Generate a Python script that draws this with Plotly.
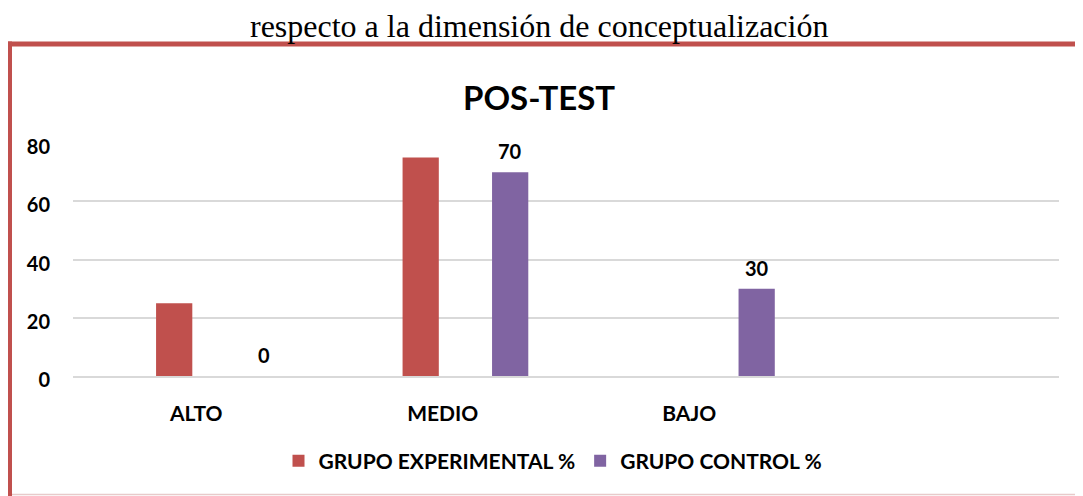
import plotly.graph_objects as go

categories = ["ALTO", "MEDIO", "BAJO", " "]
experimental = [25, 75, None, None]
control = [0, 70, 30, None]
series_names = ["GRUPO EXPERIMENTAL %", "GRUPO CONTROL %"]
y_ticks = [0, 20, 40, 60, 80]
caption = "respecto a la dimensión de conceptualización"
chart_title = "POS-TEST"

RED = "#C0504D"
PURPLE = "#8064A2"
FONT = "Lato"

# page body has an 8px margin: work in screen pixels and shift
OX, OY = 8, 8
W, H = 1083 - OX, 496 - OY
# plot area in screen pixels
PX0, PX1, PY0, PY1 = 73, 1059, 143, 376
L = PX0 - OX
R = (OX + W) - PX1
T = PY0 - OY
B = (OY + H) - PY1
pw, ph = PX1 - PX0, PY1 - PY0


def px_x(px):
    return (px - PX0) / pw


def px_y(py):
    return (PY1 - py) / ph


bar_w = 0.147
red_off = -0.163
pur_off = 0.200

fig = go.Figure()
fig.add_trace(go.Bar(
    x=categories, y=experimental, name=series_names[0],
    marker=dict(color=RED, line=dict(width=0)),
    width=bar_w, offset=red_off,
))
fig.add_trace(go.Bar(
    x=categories, y=control, name=series_names[1],
    marker=dict(color=PURPLE, line=dict(width=0)),
    width=bar_w, offset=pur_off,
))

annotations = []
for i, v in enumerate(control):
    if v is None:
        continue
    annotations.append(dict(
        x=i + pur_off + bar_w / 2, y=v, xref="x", yref="y",
        text=f"<b>{v}</b>", showarrow=False, yshift=21,
        font=dict(family=FONT, size=20, color="#000000"),
    ))

annotations.append(dict(
    x=px_x(539), y=px_y(26), xref="paper", yref="paper",
    text=caption, showarrow=False, xanchor="center", yanchor="middle",
    font=dict(family="Liberation Serif", size=32, color="#000000"),
))
annotations.append(dict(
    x=px_x(539), y=px_y(97), xref="paper", yref="paper",
    text=f"<b>{chart_title}</b>", showarrow=False, xanchor="center", yanchor="middle",
    font=dict(family=FONT, size=33, color="#000000"),
))

shapes = [
    dict(type="line", xref="paper", yref="paper",
         x0=px_x(7), x1=px_x(1095), y0=px_y(44), y1=px_y(44),
         line=dict(color=RED, width=5)),
    dict(type="line", xref="paper", yref="paper",
         x0=px_x(9.5), x1=px_x(9.5), y0=px_y(41.5), y1=px_y(505),
         line=dict(color=RED, width=5)),
    dict(type="line", xref="paper", yref="paper",
         x0=px_x(12), x1=px_x(1095), y0=px_y(494.5), y1=px_y(494.5),
         line=dict(color="#E8CACA", width=1.5)),
]

fig.update_layout(
    width=W, height=H,
    margin=dict(l=L, r=R, t=T, b=B, pad=0),
    paper_bgcolor="white", plot_bgcolor="white",
    barmode="group",
    showlegend=True,
    legend=dict(
        orientation="h", x=px_x(553), y=px_y(461),
        xanchor="center", yanchor="middle",
        font=dict(family=FONT, size=21, color="#000000", weight="bold"),
        itemwidth=30, traceorder="normal",
    ),
    annotations=annotations,
    shapes=shapes,
    xaxis=dict(
        type="category", categoryorder="array", categoryarray=categories,
        range=[-0.5, 3.5],
        showgrid=False, showline=True, linecolor="#D9D9D9", linewidth=1.5,
        ticks="", ticklabelstandoff=18,
        tickfont=dict(family=FONT, size=21, color="#000000", weight="bold"),
    ),
    yaxis=dict(
        range=[0, 80], tickvals=y_ticks, ticktext=[str(v) for v in y_ticks],
        showgrid=True, gridcolor="#D9D9D9", gridwidth=1.5,
        zeroline=False, showline=False, ticks="",
        ticklabelstandoff=22, ticklabelshift=4,
        tickfont=dict(family=FONT, size=20, color="#000000", weight="bold"),
    ),
)

fig.write_html("out.html")
